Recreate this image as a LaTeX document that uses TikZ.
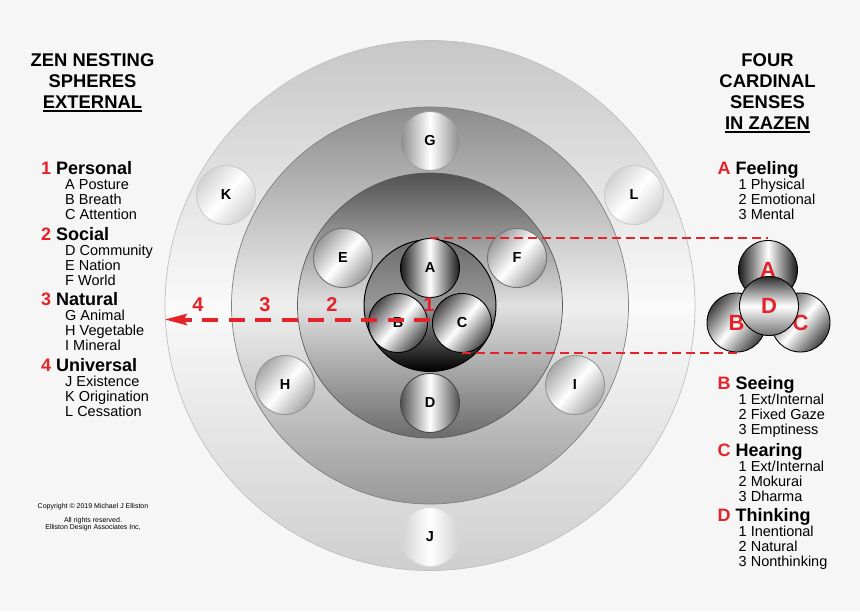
\documentclass[tikz,border=0pt]{standalone}
\usepackage{fontspec}
\setmainfont{Liberation Sans}
\usepackage{tikz}
\usetikzlibrary{positioning}
\usetikzlibrary{arrows.meta}
\definecolor{zenred}{HTML}{E42229}
\definecolor{paper}{HTML}{F6F6F6}
\newcommand{\zenhead}[2]{{\fontsize{18}{15}\selectfont\bfseries\textcolor{zenred}{#1} #2}}
\newcommand{\zenrule}[1]{\setbox0\hbox{#1}\rlap{\rule[-3.4pt]{\wd0}{2.2pt}}\box0}
\newcommand{\zentab}{\hspace*{24pt}}
\newcommand{\sensetab}{\hspace*{21pt}}

\begin{document}
\begin{tikzpicture}[x=1pt, y=-1pt,
  disc/.style = {circle, inner sep=0pt, line width=0.7pt},
  ball/.style = {circle, minimum size=59pt, inner sep=0pt, line width=0.9pt,
    font=\fontsize{14.5}{14.5}\selectfont\bfseries},
  bandball/.style 2 args = {ball, draw=#2, left color=#1, right color=#1,
    middle color=white},
  slantball/.style 2 args = {ball, draw=#2, left color=#1, right color=#1,
    middle color=white, shading angle=50},
  senseball/.style = {font=\fontsize{22}{22}\selectfont\bfseries, text=zenred},
  title/.style = {anchor=base, align=center, inner sep=0pt,
    font=\fontsize{18.4}{21}\selectfont\bfseries},
  listblock/.style = {anchor=base west, align=left, inner sep=0pt,
    font=\fontsize{14.5}{15}\selectfont},
  ordlabel/.style = {text=zenred, inner sep=0pt,
    font=\fontsize{20}{20}\selectfont\bfseries},
  spoke/.style = {zenred, line width=4pt, dash pattern=on 16pt off 10.5pt,
    -{Stealth[length=22pt,width=11pt,inset=3pt]}},
  link/.style = {zenred, line width=2.6pt, dash pattern=on 9pt off 5pt}]
 \fill[paper] (0,0) rectangle (860,611);
 \useasboundingbox (0,0) rectangle (860,611);

 % nesting rings
 \node[disc, minimum size=530pt, draw=black!25, top color=black!22,
   bottom color=black!19, middle color=black!2] (ring4) at (430,305.5) {};
 \node[disc, minimum size=397pt, draw=black!50, top color=black!45,
   bottom color=black!40, middle color=black!6] (ring3) at (430,305.5) {};
 \node[disc, minimum size=265pt, draw=black!65, top color=black!68,
   bottom color=black!58, middle color=black!12] (ring2) at (430,305.5) {};

 % outer spheres
 \node[slantball={black!18}{black!20}] (k) at (226,195) {K};
 \node[slantball={black!18}{black!20}] (l) at (634,195) {L};
 \node[bandball={black!18}{black!14}] (j) at (430,537) {J};
 \node[bandball={black!45}{black!38}] (g) at (430,141) {G};
 \node[slantball={black!35}{black!42}] (h) at (285,385) {H};
 \node[slantball={black!35}{black!42}] (i) at (575,385) {I};
 \node[slantball={black!40}{black!55}] (e) at (343,258) {E};
 \node[slantball={black!40}{black!55}] (f) at (517,258) {F};
 \node[bandball={black!68}{black!72}] (d) at (430,403) {D};

 % personal sphere
 \node[disc, minimum size=132pt, draw=black, line width=1pt, top color=black!58,
   bottom color=black, middle color=black!40] (ring1) at (430,305.5) {};
 \node[bandball={black!90}{black}] (a) at (430,268) {A};
 \node[slantball={black!72}{black}] (b) at (398,323) {B};
 \node[slantball={black!72}{black}] (c) at (462,323) {C};

 % four senses
 \node[bandball={black!90}{black}, senseball] (sa) at (768,270) {A};
 \node[slantball={black!75}{black}, senseball] (sb) at (736.5,322.5) {B};
 \node[slantball={black!75}{black}, senseball] (sc) at (800.5,322.5) {C};
 \node[ball, draw=black, top color=black!82, bottom color=black!55,
   middle color=white, senseball] (sd) at (769,306) {D};

 \draw[link] (a.north) -- (a.north -| sa.north);
 \draw[link] (c.south) -- (c.south -| sb.south);

 \coordinate (core) at (430,319.5);
 \draw[spoke] (core) -- (core -| ring4.west);
 \node[ordlabel] (n1) at (429,305) {1};
 \node[ordlabel] (n2) at (332,305) {2};
 \node[ordlabel] (n3) at (265,305) {3};
 \node[ordlabel] (n4) at (198,305) {4};

 % left column (anchored at the last baseline)
 \node[title] (spheres) at (92.5,108.7) {ZEN NESTING\\SPHERES\\\zenrule{EXTERNAL}};
 \node[listblock] (personal) at (41,219.3) {\zenhead{1}{Personal}\\
   \zentab A Posture\\\zentab B Breath\\\zentab C Attention};
 \node[listblock] (social) at (41,285) {\zenhead{2}{Social}\\
   \zentab D Community\\\zentab E Nation\\\zentab F World};
 \node[listblock] (natural) at (41,350) {\zenhead{3}{Natural}\\
   \zentab G Animal\\\zentab H Vegetable\\\zentab I Mineral};
 \node[listblock] (universal) at (41,416.5) {\zenhead{4}{Universal}\\
   \zentab J Existence\\\zentab K Origination\\\zentab L Cessation};
 \node[anchor=base, align=center, inner sep=0pt, font=\fontsize{7}{7.2}\selectfont]
   (rights) at (93,529.9) {Copyright © 2019 Michael J Elliston\\[7pt]
   All rights reserved.\\Elliston Design Associates Inc,};

 % right column
 \node[title] (senses) at (767.5,129.7) {FOUR\\CARDINAL\\SENSES\\\zenrule{IN ZAZEN}};
 \node[listblock] (feeling) at (717.5,219) {\zenhead{A}{Feeling}\\
   \sensetab 1 Physical\\\sensetab 2 Emotional\\\sensetab 3 Mental};
 \node[listblock] (seeing) at (717.5,434.3) {\zenhead{B}{Seeing}\\
   \sensetab 1 Ext/Internal\\\sensetab 2 Fixed Gaze\\\sensetab 3 Emptiness};
 \node[listblock] (hearing) at (717.5,501) {\zenhead{C}{Hearing}\\
   \sensetab 1 Ext/Internal\\\sensetab 2 Mokurai\\\sensetab 3 Dharma};
 \node[listblock] (thinking) at (717.5,566.7) {\zenhead{D}{Thinking}\\
   \sensetab 1 Inentional\\\sensetab 2 Natural\\\sensetab 3 Nonthinking};
\end{tikzpicture}
\end{document}
